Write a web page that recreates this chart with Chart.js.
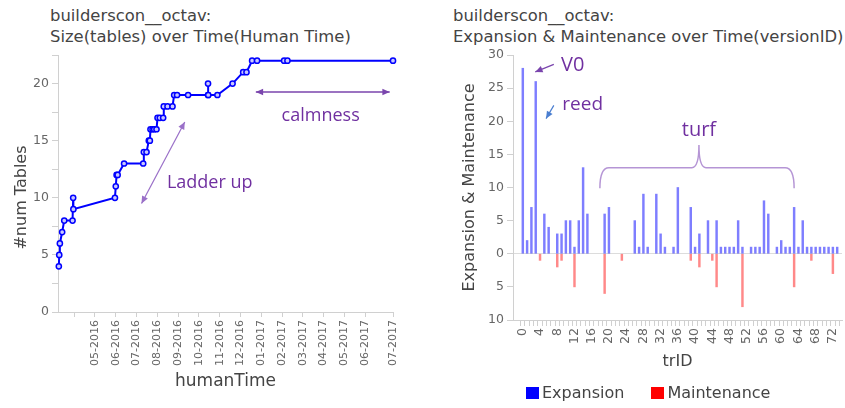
<!DOCTYPE html>
<html><head><meta charset="utf-8">
<script src="https://cdn.jsdelivr.net/npm/chart.js@4"></script>
<style>
body{margin:0;background:#fff;width:845px;height:408px;overflow:hidden;position:relative;}
.t{position:absolute;font:16.4px 'DejaVu Sans';color:#444;line-height:21px;white-space:nowrap}
canvas{position:absolute;top:0}
#lg{position:absolute;left:526px;top:383px;display:flex;align-items:center;font:16px 'DejaVu Sans';color:#444;white-space:nowrap;line-height:20px}
#lg .b{display:inline-block;width:13px;height:12px;margin-right:3px}
#lg .i{display:flex;align-items:center;margin-right:27px}
</style></head><body>
<div class="t" style="left:50px;top:5px">builderscon__octav:<br>Size(tables) over Time(Human Time)</div>
<div class="t" style="left:453px;top:5px">builderscon__octav:<br>Expansion &amp; Maintenance over Time(versionID)</div>
<canvas id="c1" width="425" height="408" style="left:0"></canvas>
<canvas id="c2" width="390" height="408" style="left:455px"></canvas>
<div id="lg"></div>
<script>
// ---------- LEFT CHART DATA (time in months since Jan 2016, 0 = 01-2016) ----------
const monthTicks = [3,4,5,6,7,8,9,10,11,12,13,14,15,16,17,18.34];
const monthLabels = ['','05-2016','06-2016','07-2016','08-2016','09-2016','10-2016','11-2016','12-2016','01-2017','02-2017','03-2017','04-2017','05-2017','06-2017','07-2017'];
const timeMonths = [2.26,2.28,2.31,2.42,2.52,2.92,2.95,2.96,4.96,5.00,5.04,5.09,5.40,6.32,6.35,6.48,6.59,6.64,6.67,6.77,6.85,6.96,7.01,7.12,7.28,7.31,7.49,7.73,7.81,7.95,8.48,9.44,9.44,9.45,9.89,10.62,11.13,11.29,11.56,11.80,13.10,13.26,18.34];
const numTables  = [4,5,6,7,8,8,10,9,10,11,12,12,13,13,14,14,15,15,16,16,16,16,17,17,17,18,18,18,19,19,19,19,20,19,19,20,21,21,22,22,22,22,22];
const yTicksLeft = [0,2.5,5,7.5,10,12.5,15,17.5,20,22.5];

// ---------- RIGHT CHART DATA ----------
const trIDs = [0,1,2,3,4,5,6,7,8,9,10,11,12,13,14,15,16,17,18,19,20,21,22,23,24,25,26,27,28,29,30,31,32,33,34,35,36,37,38,39,40,41,42,43,44,45,46,47,48,49,50,51,52,53,54,55,56,57,58,59,60,61,62,63,64,65,66,67,68,69,70,71,72,73];
const expansion = [28,2,7,26,0,6,4,0,3,3, 5,5,1,5,13,6,0,0,0,6, 7,0,0,0,0,0,5,1,9,1, 0,9,3,1,0,1,10,0,0,7, 1,3,0,5,0,5,1,1,1,1, 5,1,0,1,1,1,8,6,0,1, 2,1,1,7,1,5,1,1,1,1, 1,1,1,1];
const maintenance = [0,0,0,0,1,0,0,0,2,1, 0,0,5,0,0,0,0,0,0,6, 0,0,0,1,0,0,0,0,0,0, 0,0,0,0,0,0,0,0,0,1, 0,2,0,0,1,5,0,0,0,0, 0,8,0,0,0,0,0,0,0,0, 0,0,0,5,0,0,0,1,0,0, 0,0,3,0];
const yTicksRight = [-10,-5,0,5,10,15,20,25,30];
const seriesNames = ['Expansion','Maintenance'];
const legendColors = ['#0000ff','#ff0000'];

const FONT = 'DejaVu Sans';
const PURPLE = '#7030a0';

// HTML legend
const lg=document.getElementById('lg');
seriesNames.forEach((n,i)=>{
  const it=document.createElement('span');it.className='i';
  const b=document.createElement('span');b.className='b';b.style.background=legendColors[i];
  it.appendChild(b);it.appendChild(document.createTextNode(n));lg.appendChild(it);
});

function head(ctx,x1,y1,x2,y2,s){
  const a=Math.atan2(y2-y1,x2-x1);
  ctx.beginPath();ctx.moveTo(x2,y2);
  ctx.lineTo(x2-s*Math.cos(a-0.42),y2-s*Math.sin(a-0.42));
  ctx.lineTo(x2-s*Math.cos(a+0.42),y2-s*Math.sin(a+0.42));
  ctx.closePath();ctx.fill();
}
function arrow(ctx,sx,sy,a,b,color,w,both){
  const x1=sx.getPixelForValue(a[0]),y1=sy.getPixelForValue(a[1]);
  const x2=sx.getPixelForValue(b[0]),y2=sy.getPixelForValue(b[1]);
  ctx.save();ctx.strokeStyle=color;ctx.fillStyle=color;ctx.lineWidth=w;
  ctx.beginPath();ctx.moveTo(x1,y1);ctx.lineTo(x2,y2);ctx.stroke();
  head(ctx,x1,y1,x2,y2,8);
  if(both) head(ctx,x2,y2,x1,y1,8);
  ctx.restore();
}
function label(ctx,sx,sy,t,x,y,size,color){
  ctx.save();ctx.font=size+"px 'Open Sans'";ctx.fillStyle=color;
  ctx.textAlign='center';ctx.textBaseline='middle';
  ctx.fillText(t,sx.getPixelForValue(x),sy.getPixelForValue(y));ctx.restore();
}

const leftNotes = {
  id:'leftNotes',
  afterDatasetsDraw(chart){
    const ctx=chart.ctx,sx=chart.scales.x,sy=chart.scales.y,ca=chart.chartArea;
    label(ctx,sx,sy,'Ladder up',9.52,11.3,18,PURPLE);
    label(ctx,sx,sy,'calmness',14.86,17.2,18,PURPLE);
    arrow(ctx,sx,sy,[6.24,9.5],[8.32,16.64],'#9a70c8',1.2,true);
    arrow(ctx,sx,sy,[11.74,19.27],[18.18,19.27],'#7a45ad',1.5,true);
    // y-axis title (placed a bit below the plot centre as in the original)
    ctx.save();ctx.font="16px 'DejaVu Sans'";ctx.fillStyle='#444';
    ctx.textAlign='center';ctx.textBaseline='middle';
    ctx.translate(22,(ca.top+ca.bottom)/2+14);ctx.rotate(-Math.PI/2);
    ctx.fillText('#num Tables',0,0);ctx.restore();
  }
};
const rightNotes = {
  id:'rightNotes',
  afterDatasetsDraw(chart){
    const ctx=chart.ctx,sx=chart.scales.x,sy=chart.scales.y;
    label(ctx,sx,sy,'V0',11.6,28.4,20,PURPLE);
    label(ctx,sx,sy,'reed',13.9,22.5,19,PURPLE);
    label(ctx,sx,sy,'turf',40.9,18.7,20,PURPLE);
    arrow(ctx,sx,sy,[7.2,28.6],[2.9,27.45],'#7a45ad',1.3,false);
    arrow(ctx,sx,sy,[7.2,22.4],[5.4,20.4],'#4a7ed0',1.2,false);
    // brace
    const X=v=>sx.getPixelForValue(v),Y=v=>sy.getPixelForValue(v);
    const x1=X(17.9),x2=X(63.0),xm=X(40.9),yb=Y(13.0),ye=Y(9.9),yp=Y(16.4);
    ctx.save();ctx.strokeStyle='#b595d5';ctx.lineWidth=1.5;ctx.beginPath();
    ctx.moveTo(x1,ye);ctx.quadraticCurveTo(x1,yb,x1+9,yb);
    ctx.lineTo(xm-7,yb);ctx.quadraticCurveTo(xm,yb,xm,yp);
    ctx.quadraticCurveTo(xm,yb,xm+7,yb);
    ctx.lineTo(x2-9,yb);ctx.quadraticCurveTo(x2,yb,x2,ye);
    ctx.stroke();ctx.restore();
  }
};

const tickFont = {family:FONT,size:12.5};
const titleFont = {family:FONT,size:16};

new Chart(document.getElementById('c1'),{
  type:'line',
  data:{datasets:[{
    data:timeMonths.map((t,i)=>({x:t,y:numTables[i]})),
    borderColor:'#0000ff',borderWidth:2,
    pointRadius:2.6,pointBorderWidth:1.5,pointBorderColor:'#0000ff',pointBackgroundColor:'#c8c8ff',
    tension:0,clip:false
  }]},
  options:{
    responsive:false,animation:false,devicePixelRatio:1,
    layout:{padding:{top:55,right:32,left:0,bottom:0}},
    plugins:{legend:{display:false},tooltip:{enabled:false}},
    scales:{
      x:{type:'linear',min:2.22,max:18.34,
        afterBuildTicks:s=>{s.ticks=monthTicks.map(v=>({value:v}));},
        afterFit:s=>{s.height=96;s.paddingLeft=0;s.paddingRight=0;},
        grid:{drawOnChartArea:false,tickLength:5,color:'#d0d0d0'},
        border:{color:'#d0d0d0'},
        ticks:{autoSkip:false,minRotation:90,maxRotation:90,padding:3,color:'#666',font:{family:FONT,size:11},
          callback:(v,i)=>monthLabels[i]},
        title:{display:true,text:'humanTime',color:'#444',font:{family:FONT,size:17},padding:{top:0,bottom:16}}
      },
      y:{min:0,max:22.5,
        afterBuildTicks:s=>{s.ticks=yTicksLeft.map(v=>({value:v}));},
        afterFit:s=>{s.width=58;},
        grid:{drawOnChartArea:false,tickLength:6,color:'#d0d0d0'},
        border:{color:'#d0d0d0'},
        ticks:{padding:3,color:'#666',font:tickFont,callback:v=>(v%5===0?String(v):'')},
        title:{display:false}
      }
    }
  },
  plugins:[leftNotes]
});

new Chart(document.getElementById('c2'),{
  type:'bar',
  data:{datasets:[
    {label:seriesNames[0],data:trIDs.map((t,i)=>({x:t,y:expansion[i]===0?null:expansion[i]})),backgroundColor:'rgba(40,40,255,0.6)',barThickness:1.8,grouped:false},
    {label:seriesNames[1],data:trIDs.map((t,i)=>({x:t,y:maintenance[i]===0?null:-maintenance[i]})),backgroundColor:'rgba(255,40,40,0.55)',barThickness:1.8,grouped:false}
  ]},
  options:{
    responsive:false,animation:false,devicePixelRatio:1,
    layout:{padding:{top:55,right:3,left:0,bottom:0}},
    plugins:{tooltip:{enabled:false},legend:{display:false}},
    scales:{
      x:{type:'linear',min:-1.76,max:73.6,
        afterBuildTicks:s=>{s.ticks=trIDs.map(v=>({value:v}));},
        afterFit:s=>{s.height=88;s.paddingLeft=0;s.paddingRight=0;},
        grid:{drawOnChartArea:false,tickLength:6,color:'#d0d0d0'},
        border:{color:'#d0d0d0'},
        ticks:{autoSkip:false,minRotation:90,maxRotation:90,padding:2,color:'#666',font:tickFont,
          callback:v=>(v%4===0?String(v):'')},
        title:{display:true,text:'trID',color:'#444',font:titleFont,padding:{top:0,bottom:37}}
      },
      y:{min:-10,max:30,
        afterBuildTicks:s=>{s.ticks=yTicksRight.map(v=>({value:v}));},
        afterFit:s=>{s.width=58;},
        grid:{color:c=>(c.tick&&c.tick.value===0?'#dcdcdc':'rgba(0,0,0,0)'),tickColor:'#d0d0d0',tickLength:6},
        border:{color:'#d0d0d0'},
        ticks:{padding:3,color:'#666',font:tickFont,callback:v=>String(Math.abs(v))},
        title:{display:true,text:'Expansion & Maintenance',color:'#444',font:titleFont,padding:{top:5,bottom:0}}
      }
    }
  },
  plugins:[rightNotes]
});
</script>
</body></html>
